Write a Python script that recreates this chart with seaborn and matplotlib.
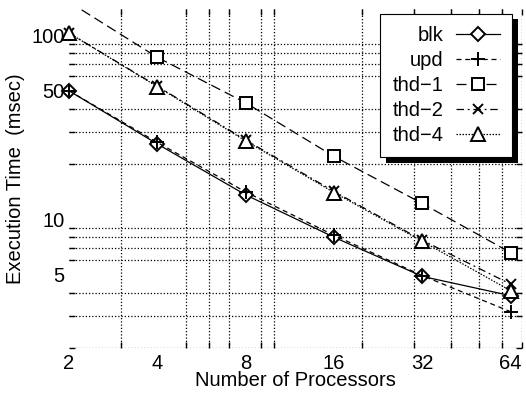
import numpy as np
import matplotlib
matplotlib.use("Agg")
import matplotlib.pyplot as plt
import matplotlib.patheffects as pe
import matplotlib.ticker as mticker
from matplotlib.lines import Line2D
import seaborn as sns
import pandas as pd

# data
procs = [2, 4, 8, 16, 32, 64]
blk = [50, 25.7, 13.6, 8.0, 4.9, 3.85]
upd = [50, 26.2, 14.1, 8.2, 4.95, 3.15]
thd1 = [152, 76, 43, 22, 12.2, 6.6]
thd2 = [103, 53, 27, 14.2, 7.7, 4.45]
thd4 = [103, 52.6, 26.7, 14.0, 7.6, 4.1]

names = ["blk", "upd", "thd\u22121", "thd\u22122", "thd\u22124"]
series = [blk, upd, thd1, thd2, thd4]
x_ticks = [2, 4, 8, 16, 32, 64]
y_ticks = [5, 10, 50, 100]
YMIN, YMAX = 2, 140

styles = {
    "blk": dict(marker="D", ls="-", ms=7),
    "upd": dict(marker="+", ls=(0, (4, 3)), ms=10),
    "thd\u22121": dict(marker="s", ls=(0, (8, 4)), ms=8),
    "thd\u22122": dict(marker="x", ls=(0, (6, 3, 1.5, 3)), ms=7),
    "thd\u22124": dict(marker="^", ls=(0, (1.2, 1.2)), ms=10),
}

df = pd.concat([pd.DataFrame({"procs": procs, "time": v, "scheme": n})
                for n, v in zip(names, series)], ignore_index=True)

plt.rcParams["font.family"] = ["Liberation Sans", "DejaVu Sans"]
FS = 14.5

fig = plt.figure(figsize=(5.26, 3.95), dpi=100)
ax = fig.add_axes([69 / 526, 1 - 348 / 395, 453 / 526, 339.5 / 395])

handles = []
for n in names:
    st = styles[n]
    sub = df[df["scheme"] == n]
    # line, clipped at the axes
    sns.lineplot(data=sub, x="procs", y="time", ax=ax, color="k", lw=0.9,
                 linestyle=st["ls"], legend=False)
    # markers only for points inside the limits, not clipped at the edge
    inside = sub[(sub["time"] >= YMIN) & (sub["time"] <= YMAX)]
    sns.lineplot(data=inside, x="procs", y="time", ax=ax, linestyle="none",
                 marker=st["marker"], markersize=st["ms"], markerfacecolor="w",
                 markeredgecolor="k", markeredgewidth=1.4, clip_on=False,
                 legend=False)
    handles.append(Line2D([], [], color="k", lw=0.9, linestyle=st["ls"],
                          marker=st["marker"], markersize=st["ms"],
                          markerfacecolor="w", markeredgecolor="k",
                          markeredgewidth=1.4, label=n))

ax.set_xscale("log")
ax.set_yscale("log")
ax.set_xlim(2, 70)
ax.set_ylim(YMIN, YMAX)

ax.xaxis.set_major_locator(mticker.FixedLocator(x_ticks))
ax.xaxis.set_major_formatter(mticker.FixedFormatter([str(t) for t in x_ticks]))
ax.xaxis.set_minor_locator(mticker.FixedLocator([2, 3, 4, 5, 6, 7, 8, 9, 10, 20, 30, 40, 50, 60, 70]))
ax.xaxis.set_minor_formatter(mticker.NullFormatter())
ax.yaxis.set_major_locator(mticker.FixedLocator(y_ticks))
ax.yaxis.set_major_formatter(mticker.FixedFormatter([str(t) for t in y_ticks]))
ax.yaxis.set_minor_locator(mticker.FixedLocator(list(range(2, 10)) + list(range(10, 101, 10))))
ax.yaxis.set_minor_formatter(mticker.NullFormatter())

ax.tick_params(which="major", length=0, labelsize=FS)
ax.tick_params(axis="x", which="major", pad=4)
ax.tick_params(axis="y", which="major", pad=3)
ax.tick_params(which="minor", direction="in", length=4, width=1,
               top=True, right=True, bottom=True, left=True)
ax.grid(which="minor", color="k", ls=(0, (1, 1.6)), lw=0.9)
ax.grid(which="major", visible=False)
for sp in ax.spines.values():
    sp.set_visible(False)

ax.set_xlabel("Number of Processors", fontsize=FS, labelpad=-1)
ax.set_ylabel("Execution Time  (msec)", fontsize=FS, labelpad=5)

leg = ax.legend(handles=handles, loc="upper right", bbox_to_anchor=(0.978, 0.984),
                borderaxespad=0, markerfirst=False, fancybox=False, framealpha=1,
                edgecolor="k", fontsize=FS, handlelength=2.2, numpoints=1,
                labelspacing=0.3, borderpad=0.6, handletextpad=0.6)
leg.get_frame().set_linewidth(0.8)
leg.get_frame().set_path_effects([
    pe.SimplePatchShadow(offset=(4, -4), shadow_rgbFace="k", alpha=1),
    pe.Normal()])

fig.savefig("out.png", dpi=100)
